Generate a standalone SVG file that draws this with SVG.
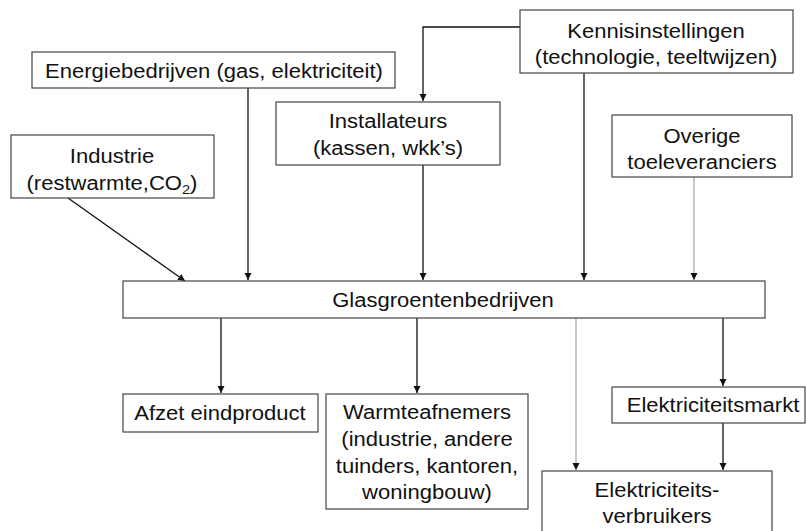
<svg xmlns="http://www.w3.org/2000/svg" width="806" height="531" viewBox="0 0 806 531">
<defs>
<style>
.box{fill:#fff;stroke:#444;stroke-width:1.2}
.t{font-family:"Liberation Sans",Arial,sans-serif;font-size:19.5px;fill:#111;text-anchor:middle}
.sub{font-size:13px}
.ln{fill:none;stroke:#111;stroke-width:1.3}
.lg{fill:none;stroke:#aaa;stroke-width:1.3}
</style>
<marker id="ah" markerUnits="userSpaceOnUse" markerWidth="8" markerHeight="8" refX="7" refY="3.5" orient="auto">
<path d="M0,0 L7,3.5 L0,7 z" fill="#111"/>
</marker>
</defs>
<rect width="806" height="531" fill="#fff"/>

<g id="connectors">
<path class="ln" d="M520,27 H423 V101" marker-end="url(#ah)"/>
<path class="ln" d="M584,73 V280" marker-end="url(#ah)"/>
<path class="lg" d="M694,177 V280" marker-end="url(#ah)"/>
<path class="ln" d="M248,88 V280" marker-end="url(#ah)"/>
<path class="ln" d="M423,165 V280" marker-end="url(#ah)"/>
<path class="ln" d="M68,198 L185,281" marker-end="url(#ah)"/>
<path class="ln" d="M221,318 V393" marker-end="url(#ah)"/>
<path class="ln" d="M417,318 V393" marker-end="url(#ah)"/>
<path class="lg" d="M576,318 V470" marker-end="url(#ah)"/>
<path class="ln" d="M723,318 V386" marker-end="url(#ah)"/>
<path class="ln" d="M723,423 V470" marker-end="url(#ah)"/>
</g>

<g id="energiebedrijven">
<rect class="box" x="32" y="52" width="363" height="36"/>
<text class="t" transform="translate(214,78) scale(1.13,1)">Energiebedrijven (gas, elektriciteit)</text>
</g>

<g id="kennisinstellingen">
<rect class="box" x="520" y="10" width="273" height="63"/>
<text class="t" transform="translate(656,38) scale(1.13,1)">Kennisinstellingen</text>
<text class="t" transform="translate(656,64) scale(1.13,1)">(technologie, teeltwijzen)</text>
</g>

<g id="installateurs">
<rect class="box" x="276" y="102" width="224" height="63"/>
<text class="t" transform="translate(388,128) scale(1.13,1)">Installateurs</text>
<text class="t" transform="translate(388,155) scale(1.13,1)">(kassen, wkk’s)</text>
</g>

<g id="industrie">
<rect class="box" x="11" y="135" width="203" height="63"/>
<text class="t" transform="translate(112,163) scale(1.13,1)">Industrie</text>
<text class="t" transform="translate(112,190) scale(1.13,1)">(restwarmte,CO<tspan class="sub" dy="4">2</tspan><tspan dy="-4">)</tspan></text>
</g>

<g id="overige">
<rect class="box" x="612" y="115" width="180" height="62"/>
<text class="t" transform="translate(702,143) scale(1.13,1)">Overige</text>
<text class="t" transform="translate(702,169) scale(1.13,1)">toeleveranciers</text>
</g>

<g id="glasgroentenbedrijven">
<rect class="box" x="123" y="281" width="642" height="37"/>
<text class="t" transform="translate(443,307) scale(1.13,1)">Glasgroentenbedrijven</text>
</g>

<g id="afzet">
<rect class="box" x="123" y="394" width="195" height="38"/>
<text class="t" transform="translate(220,420) scale(1.13,1)">Afzet eindproduct</text>
</g>

<g id="warmteafnemers">
<rect class="box" x="326" y="394" width="202" height="115"/>
<text class="t" transform="translate(427,419) scale(1.13,1)">Warmteafnemers</text>
<text class="t" transform="translate(427,446) scale(1.13,1)">(industrie, andere</text>
<text class="t" transform="translate(427,473) scale(1.13,1)">tuinders, kantoren,</text>
<text class="t" transform="translate(427,499) scale(1.13,1)">woningbouw)</text>
</g>

<g id="elektriciteitsmarkt">
<rect class="box" x="612" y="387" width="193" height="36"/>
<text class="t" transform="translate(713,412) scale(1.13,1)">Elektriciteitsmarkt</text>
</g>

<g id="elektriciteitsverbruikers">
<rect class="box" x="542" y="471" width="230" height="70"/>
<text class="t" transform="translate(657,497) scale(1.13,1)">Elektriciteits-</text>
<text class="t" transform="translate(657,523) scale(1.13,1)">verbruikers</text>
</g>
</svg>
